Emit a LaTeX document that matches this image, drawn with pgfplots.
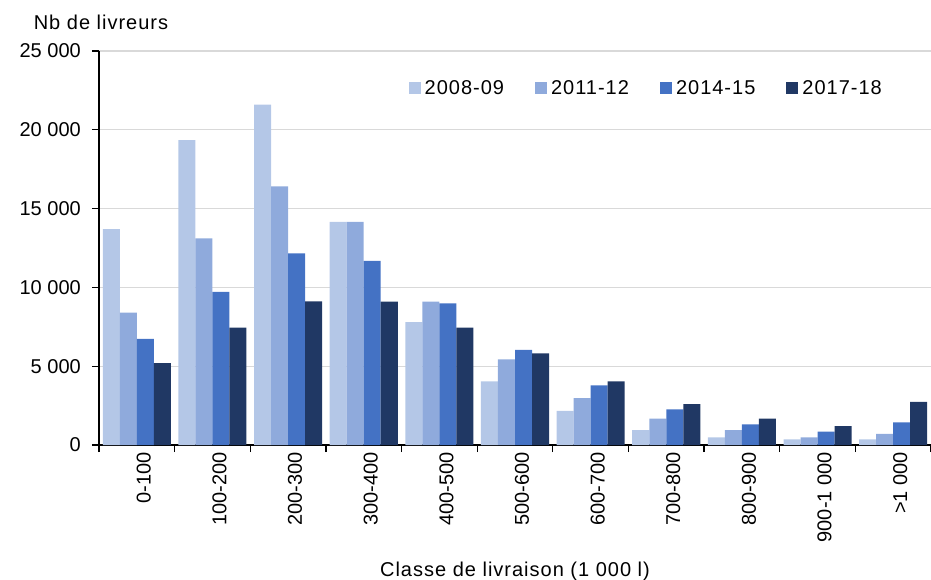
\documentclass[border=0pt]{standalone}
\usepackage{fontspec}
\setmainfont{Liberation Sans}
\newfontfamily\spaced[LetterSpace=5]{Liberation Sans}
\usepackage{pgfplots}
\pgfplotsset{compat=1.18}
\definecolor{c1}{HTML}{B4C7E7}
\definecolor{c2}{HTML}{8FAADC}
\definecolor{c3}{HTML}{4472C4}
\definecolor{c4}{HTML}{203864}
\newcommand{\ff}{\fontsize{20bp}{24bp}\selectfont}
\begin{document}
\begin{tikzpicture}
\path[use as bounding box] (-99bp,-135bp) rectangle (832bp,445bp);
\begin{axis}[
  at={(0,0)}, anchor=south west,
  scale only axis, width=832bp, height=394bp,
  clip=false,
  font=\ff,
  ybar=0pt, bar width=0.225,
  xmin=-0.5, xmax=10.5, ymin=0, ymax=25000,
  xtick={-0.5,0.5,...,10.5}, xticklabels={},
  extra x ticks={0,1,...,10},
  extra x tick labels={0-100,100-200,200-300,300-400,400-500,500-600,600-700,700-800,800-900,900-1 000,>1 000},
  extra x tick style={tick style={draw=none}, xticklabel style={rotate=90, anchor=east, inner sep=0pt, yshift=-7bp}},
  ytick={0,5000,10000,15000,20000,25000},
  yticklabels={0,5 000,10 000,15 000,20 000,25 000},
  scaled y ticks=false,
  yticklabel style={anchor=east, inner sep=0pt, xshift=-11bp},
  tick align=outside,
  major tick length=7bp,
  tick style={black, line width=1.2bp},
  axis lines*=left,
  axis line style={black, line width=1.6bp, -},
  ymajorgrids,
  major grid style={line width=1.3bp, color=black!15},
  legend style={at={(rel axis cs:0.372,0.906)}, anchor=west, draw=none, fill=none,
    legend columns=4, font=\spaced\ff, inner sep=0pt,
    nodes={inner sep=1bp},
    /tikz/every odd column/.append style={column sep=3bp},
    /tikz/every even column/.append style={column sep=30bp}},
  legend image code/.code={\fill[#1] (0bp,-6bp) rectangle (12bp,6bp);},
]
\addplot[fill=c1, draw=none] coordinates {(0,13700) (1,19350) (2,21600) (3,14150) (4,7800) (5,4040) (6,2160) (7,950) (8,490) (9,360) (10,360)};
\addplot[fill=c2, draw=none] coordinates {(0,8400) (1,13110) (2,16410) (3,14150) (4,9100) (5,5440) (6,2980) (7,1670) (8,950) (9,490) (10,700)};
\addplot[fill=c3, draw=none] coordinates {(0,6730) (1,9710) (2,12160) (3,11680) (4,8990) (5,6030) (6,3790) (7,2260) (8,1310) (9,850) (10,1440)};
\addplot[fill=c4, draw=none] coordinates {(0,5200) (1,7440) (2,9120) (3,9100) (4,7440) (5,5820) (6,4040) (7,2600) (8,1670) (9,1190) (10,2730)};
\legend{2008-09,2011-12,2014-15,2017-18}
\node[anchor=base, font=\spaced\ff] at (rel axis cs:0,1) [xshift=2bp, yshift=21bp] {Nb de livreurs};
\node[anchor=base, font=\spaced\ff] at (rel axis cs:0.5,0) [yshift=-131bp] {Classe de livraison (1 000 l)};
\end{axis}
\end{tikzpicture}
\end{document}
